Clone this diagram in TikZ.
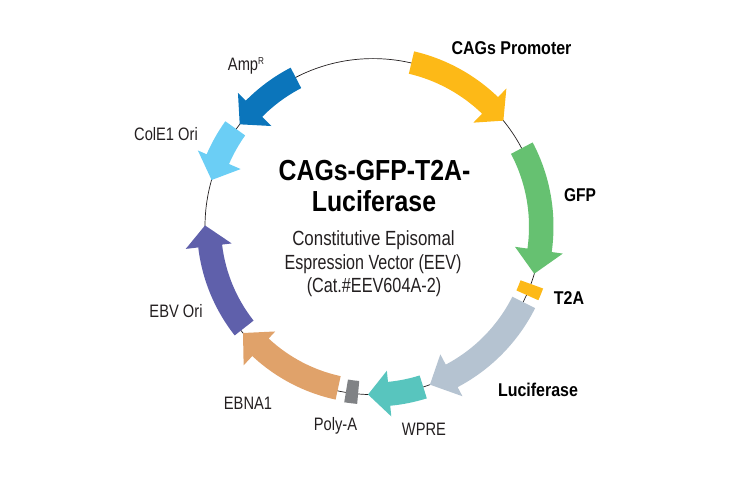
\documentclass[tikz,border=0pt]{standalone}
\usepackage{fontspec}
\setmainfont{Liberation Sans}[FakeStretch=0.8]
\definecolor{promoter}{HTML}{FDB917}
\definecolor{gfpgreen}{HTML}{66C171}
\definecolor{lucgrey}{HTML}{B5C3D1}
\definecolor{wpreteal}{HTML}{58C5BE}
\definecolor{polygrey}{HTML}{808285}
\definecolor{ebnatan}{HTML}{E0A26A}
\definecolor{ebvblue}{HTML}{5F60AB}
\definecolor{colelight}{HTML}{6BCEF5}
\definecolor{ampblue}{HTML}{0B75BB}
\definecolor{inkdark}{HTML}{231F20}
\tikzset{
  x=1pt, y=1pt,
  backbone/.style={draw=inkdark, line width=0.7pt},
  genelabel/.style={inner sep=0pt, text=inkdark, font=\fontsize{18}{21}\selectfont, xscale=1.02},
  boldlabel/.style={inner sep=0pt, text=black, font=\fontsize{18.5}{21}\selectfont\bfseries, xscale=1.08},
  titletext/.style={inner sep=0pt, text=black, font=\fontsize{29}{32}\selectfont\bfseries, xscale=1.07},
  subtext/.style={inner sep=0pt, text=inkdark, font=\fontsize{20.5}{24}\selectfont},
}
% Feature arrow on the ring: colour, start, shaft end, tip angle,
% shaft inner/outer radius, barb inner/outer radius
\newcommand{\ringarrow}[8]{%
  \fill[#1] (#2:#6) arc[start angle=#2, end angle=#3, radius=#6]
    -- (#3:#8) -- (#4:168) -- (#3:#7) -- (#3:#5)
    arc[start angle=#3, end angle=#2, radius=#5] -- cycle;}
% Short feature block on the ring: colour, start, end, inner/outer radius
\newcommand{\ringblock}[5]{%
  \fill[#1] (#2:#5) arc[start angle=#2, end angle=#3, radius=#5]
    -- (#3:#4) arc[start angle=#3, end angle=#2, radius=#4] -- cycle;}
\begin{document}
\begin{tikzpicture}
\useasboundingbox (0,0) rectangle (730,-478);
\begin{scope}[shift={(373,-226.6)}]
  \coordinate (hub) at (0,0);
  \draw[backbone] (hub) circle[radius=168];
  \ringarrow{promoter}{76.8}{46}{39.1}{157}{180}{144.5}{192}
  \ringarrow{gfpgreen}{27.8}{-8.1}{-16.3}{156}{180.5}{143.4}{191.7}
  \ringblock{promoter}{-20}{-24}{157}{181}
  \ringarrow{lucgrey}{-26.7}{-62.2}{-70.2}{156}{181.5}{144.4}{191.8}
  \ringarrow{wpreteal}{-72.6}{-84.5}{-91.7}{156}{180}{144.8}{190.7}
  \ringblock{polygrey}{-95.1}{-99.3}{155}{178}
  \ringarrow{ebnatan}{-102.2}{-133}{-140.7}{153}{177}{143.4}{189.7}
  \ringarrow{ebvblue}{-141.8}{-173.2}{-180.4}{152}{176}{142.3}{188.6}
  \ringarrow{colelight}{144.5}{156.5}{163.9}{157}{181.4}{144.3}{191}
  \ringarrow{ampblue}{117.4}{135.3}{142.5}{156}{179}{143}{190}
\end{scope}
\node[boldlabel] (cags) at (511.5,-48) {CAGs Promoter};
\node[boldlabel, xscale=0.97] (gfp) at (580,-195) {GFP};
\node[boldlabel] (t2a) at (569,-298) {T2A};
\node[boldlabel] (luc) at (538,-390) {Luciferase};
\node[genelabel] (wpre) at (424,-429) {WPRE};
\node[genelabel] (polya) at (335.5,-426) {Poly-A};
\node[genelabel] (ebna) at (248,-403) {EBNA1};
\node[genelabel] (ebv) at (176,-311) {EBV Ori};
\node[genelabel] (cole) at (166,-134) {ColE1 Ori};
\node[genelabel] (amp) at (246,-66) {Amp\raisebox{6pt}{\fontsize{10}{10}\selectfont R}};
\node[titletext] (title1) at (374.5,-171) {CAGs-GFP-T2A-};
\node[titletext] (title2) at (374,-201) {Luciferase};
\node[subtext, xscale=1.03] (sub1) at (373.5,-240) {Constitutive Episomal};
\node[subtext, xscale=0.98] (sub2) at (373,-264) {Espression Vector (EEV)};
\node[subtext, xscale=0.99] (sub3) at (374,-287) {(Cat.\#EEV604A-2)};
\end{tikzpicture}
\end{document}
